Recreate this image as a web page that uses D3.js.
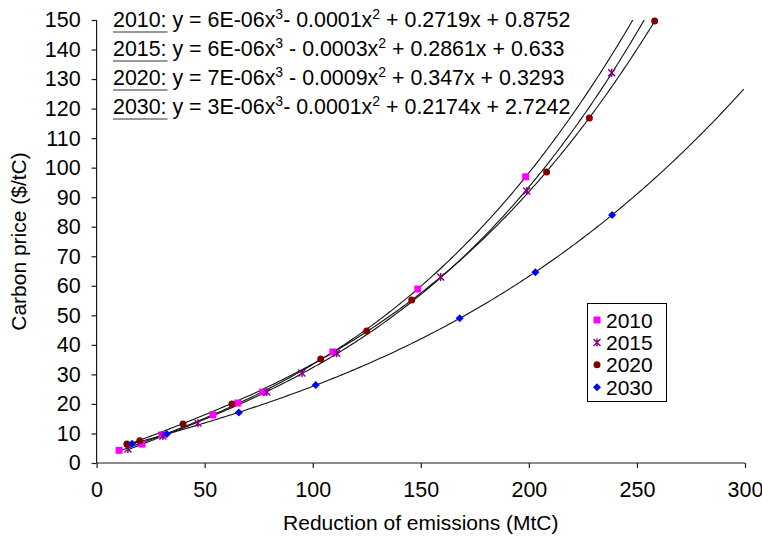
<!DOCTYPE html>
<html>
<head>
<meta charset="utf-8">
<script src="https://cdn.jsdelivr.net/npm/d3@7"></script>
<style>
  html, body { margin: 0; padding: 0; background: #fff; }
  svg { display: block; font-family: "Liberation Sans", Arial, sans-serif; }
</style>
</head>
<body>
<svg id="chart" width="762" height="539"></svg>
<script>
// ---- data ----
const seriesNames = ["2010", "2015", "2020", "2030"];
const x2010 = [10.4, 21.0, 30.2, 53.8, 65.3, 76.8, 109.3, 148.6, 198.5];
const y2010 = [4.3, 6.4, 9.5, 16.3, 20.3, 24.0, 37.6, 58.9, 96.9];
const x2015 = [14.5, 30.7, 46.9, 78.8, 95.0, 111.1, 159.2, 199.0, 238.3];
const y2015 = [4.7, 9.1, 13.5, 24.0, 30.5, 37.2, 63.0, 92.1, 132.1];
const x2020 = [14.0, 20.0, 40.0, 62.6, 103.7, 125.0, 145.8, 208.2, 228.0, 258.2];
const y2020 = [6.4, 7.5, 13.2, 20.0, 35.2, 44.7, 55.2, 98.5, 116.8, 149.7];
const x2030 = [16.4, 32.5, 65.8, 101.4, 168.0, 203.0, 238.5];
const y2030 = [6.5, 9.8, 17.1, 26.4, 49.0, 64.6, 84.0];

const xTicks = [0, 50, 100, 150, 200, 250, 300];
const yTicks = [0, 10, 20, 30, 40, 50, 60, 70, 80, 90, 100, 110, 120, 130, 140, 150];

const eqYears = ["2010:", "2015:", "2020:", "2030:"];
const eqCubic = [" y = 6E-06x", " y = 6E-06x", " y = 7E-06x", " y = 3E-06x"];
const eqQuad  = ["- 0.0001x", " - 0.0003x", " - 0.0009x", "- 0.0001x"];
const eqRest  = [" + 0.2719x + 0.8752", " + 0.2861x + 0.633", " + 0.347x + 0.3293", " + 0.2174x + 2.7242"];

const xTitle = "Reduction of emissions (MtC)";
const yTitle = "Carbon price ($/tC)";

// ---- layout ----
const W = 762, H = 539;
const m = { left: 96.6, right: 17, top: 20, bottom: 76 };
const svg = d3.select("#chart");

const x = d3.scaleLinear().domain([0, 300]).range([m.left, W - m.right]);
const y = d3.scaleLinear().domain([0, 150]).range([H - m.bottom, m.top]);

const series = [
  { name: seriesNames[0], xs: x2010, ys: y2010, color: "#ff00ff", shape: "square" },
  { name: seriesNames[1], xs: x2015, ys: y2015, color: "#800080", shape: "star" },
  { name: seriesNames[2], xs: x2020, ys: y2020, color: "#800000", shape: "circle" },
  { name: seriesNames[3], xs: x2030, ys: y2030, color: "#0000ff", shape: "diamond" }
];

// least squares cubic fit (Excel polynomial trendline)
function cubicFit(xs, ys) {
  const n = 4, s = 100;
  const A = Array.from({ length: n }, () => new Array(n + 1).fill(0));
  xs.forEach((xv, k) => {
    const t = xv / s;
    const p = [1, t, t * t, t * t * t];
    for (let i = 0; i < n; i++) {
      for (let j = 0; j < n; j++) A[i][j] += p[i] * p[j];
      A[i][n] += p[i] * ys[k];
    }
  });
  for (let c = 0; c < n; c++) {
    let piv = c;
    for (let r = c + 1; r < n; r++) if (Math.abs(A[r][c]) > Math.abs(A[piv][c])) piv = r;
    [A[c], A[piv]] = [A[piv], A[c]];
    for (let r = 0; r < n; r++) {
      if (r === c) continue;
      const f = A[r][c] / A[c][c];
      for (let k = c; k <= n; k++) A[r][k] -= f * A[c][k];
    }
  }
  const coef = A.map((row, i) => row[n] / row[i]);
  return xv => { const t = xv / s; return coef[0] + coef[1] * t + coef[2] * t * t + coef[3] * t * t * t; };
}

// clip
svg.append("defs").append("clipPath").attr("id", "plot")
  .append("rect").attr("x", x(0)).attr("y", y(150)).attr("width", x(300) - x(0)).attr("height", y(0) - y(150));

// axes
const axisColor = "#1a1a1a";
const gx = svg.append("g").attr("transform", `translate(0,${y(0)})`)
  .call(d3.axisBottom(x).tickValues(xTicks).tickSize(5).tickPadding(14).tickFormat(d3.format("d")));
const gy = svg.append("g").attr("transform", `translate(${x(0)},0)`)
  .call(d3.axisLeft(y).tickValues(yTicks).tickSize(5).tickPadding(11).tickFormat(d3.format("d")));
[gx, gy].forEach(g => {
  g.select(".domain").attr("stroke", axisColor).attr("stroke-width", 1.2);
  g.selectAll(".tick line").attr("stroke", axisColor).attr("stroke-width", 1.2);
  g.selectAll(".tick text").attr("fill", "#000").style("font-size", "21.5px")
    .style("font-family", "'Liberation Sans', Arial, sans-serif");
});
gx.select(".domain").attr("d", `M${x(0)},0H${x(300)}`);
gy.select(".domain").attr("d", `M0,${y(0)}V${y(150)}`);

// trendlines
const line = d3.line().x(d => x(d[0])).y(d => y(d[1]));
const gLines = svg.append("g").attr("clip-path", "url(#plot)");
series.forEach(s => {
  const f = cubicFit(s.xs, s.ys);
  const x0 = d3.min(s.xs), x1 = 300;
  const pts = d3.range(x0, x1 + 0.01, 1).map(v => [v, f(v)]);
  gLines.append("path").attr("d", line(pts)).attr("fill", "none")
    .attr("stroke", "#111").attr("stroke-width", 1.1);
});

// markers
function drawMarker(g, shape, color, cx, cy) {
  if (shape === "square") {
    g.append("rect").attr("x", cx - 3.5).attr("y", cy - 3.5).attr("width", 7).attr("height", 7).attr("fill", color);
  } else if (shape === "circle") {
    g.append("circle").attr("cx", cx).attr("cy", cy).attr("r", 3.5).attr("fill", color);
  } else if (shape === "diamond") {
    g.append("path").attr("d", `M${cx},${cy - 4}L${cx + 4},${cy}L${cx},${cy + 4}L${cx - 4},${cy}Z`).attr("fill", color);
  } else if (shape === "star") {
    g.append("path")
      .attr("d", `M${cx - 3.5},${cy - 3.5}L${cx + 3.5},${cy + 3.5}M${cx - 3.5},${cy + 3.5}L${cx + 3.5},${cy - 3.5}M${cx},${cy - 4}L${cx},${cy + 4}`)
      .attr("stroke", color).attr("stroke-width", 1.4).attr("fill", "none");
  }
}
const gPts = svg.append("g");
series.forEach(s => {
  s.xs.forEach((xv, i) => drawMarker(gPts, s.shape, s.color, x(xv), y(s.ys[i])));
});

// equations
const eqX = 113, eqBase = [27, 56, 85, 114];
eqYears.forEach((yr, i) => {
  const t = svg.append("text").attr("x", eqX).attr("y", eqBase[i])
    .style("font-size", "21.4px").attr("fill", "#000");
  const ty = t.append("tspan").text(yr);
  t.append("tspan").text(eqCubic[i]);
  t.append("tspan").attr("dy", -8).style("font-size", "14px").text("3");
  t.append("tspan").attr("dy", 8).text(eqQuad[i]);
  t.append("tspan").attr("dy", -8).style("font-size", "14px").text("2");
  t.append("tspan").attr("dy", 8).text(eqRest[i]);
  const w = ty.node().getComputedTextLength();
  svg.append("line").attr("x1", eqX).attr("x2", eqX + w + 1)
    .attr("y1", eqBase[i] + 5).attr("y2", eqBase[i] + 5)
    .attr("stroke", "#333").attr("stroke-width", 1);
});

// legend
const lg = svg.append("g");
lg.append("rect").attr("x", 587.5).attr("y", 303.5).attr("width", 79).attr("height", 98)
  .attr("fill", "#fff").attr("stroke", "#000").attr("stroke-width", 1);
series.forEach((s, i) => {
  const cy = 320 + i * 22.4;
  drawMarker(lg, s.shape, s.color, 597, cy);
  lg.append("text").attr("x", 606).attr("y", cy).attr("dy", "0.36em")
    .style("font-size", "21px").attr("fill", "#000").text(s.name);
});

// titles
svg.append("text").attr("x", (x(0) + x(300)) / 2).attr("y", 530)
  .attr("text-anchor", "middle").style("font-size", "21px").text(xTitle);
svg.append("text").attr("transform", `translate(26,${(y(0) + y(150)) / 2}) rotate(-90)`)
  .attr("text-anchor", "middle").style("font-size", "21px").text(yTitle);
</script>
</body>
</html>
